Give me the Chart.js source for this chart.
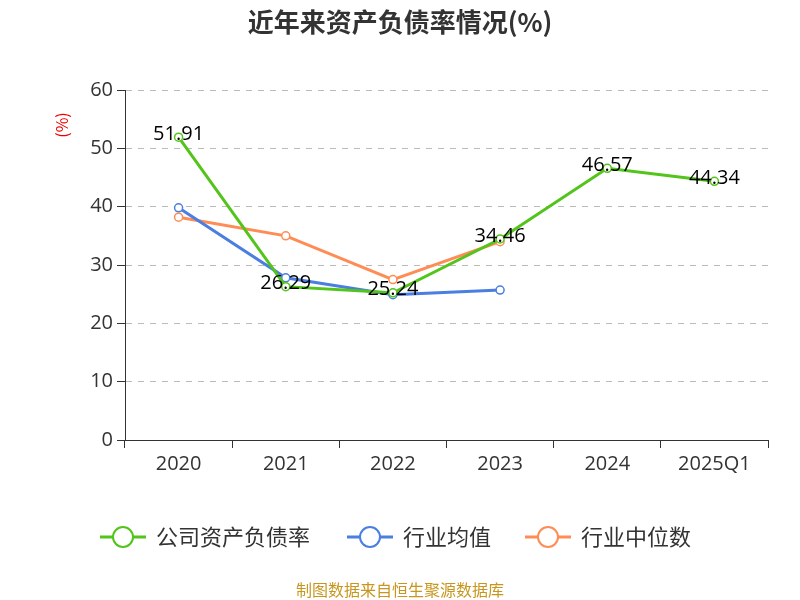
<!DOCTYPE html>
<html><head><meta charset="utf-8">
<script src="https://cdn.jsdelivr.net/npm/chart.js"></script>
<style>body{margin:0;background:#fff}#w{width:800px;height:600px}</style>
</head><body><div id="w"><canvas id="c" width="800" height="600"></canvas></div>
<script>
const categories=['2020','2021','2022','2023','2024','2025Q1'];
const company=[51.91,26.29,25.24,34.46,46.57,44.34];
const industryAvg=[39.8,27.8,24.9,25.7,null,null];
const industryMedian=[38.2,35.0,27.5,34.0,null,null];
const yTicks=[0,10,20,30,40,50,60];
const names=['公司资产负债率','行业均值','行业中位数'];
const colors=['#52c41a','#4a7ee0','#ff8c55'];
const F='"Noto Sans CJK SC","Noto Sans",sans-serif';
const L='"Open Sans","Noto Sans CJK SC",sans-serif';
const deco={id:'deco',afterDraw(ch){
 const c=ch.ctx;c.save();
 c.fillStyle='#333';c.font='bold 26px '+F;c.textAlign='center';c.textBaseline='middle';
 c.fillText('近年来资产负债率情况(%)',400,22);
 c.save();c.translate(62,125);c.rotate(-Math.PI/2);c.fillStyle='#e00';c.font='16px '+F;c.fillText('(%)',0,0);c.restore();
 const m=ch.getDatasetMeta(0);c.fillStyle='#000';c.font='20px '+L;
 m.data.forEach((p,i)=>c.fillText(company[i].toFixed(2),p.x,p.y-3));
 const items=[[100,names[0]],[347,names[1]],[525,names[2]]];
 c.font='22px '+F;c.textAlign='left';
 items.forEach(([x,t],i)=>{c.strokeStyle=colors[i];c.lineWidth=3;c.beginPath();c.moveTo(x,537);c.lineTo(x+46,537);c.stroke();
  c.beginPath();c.arc(x+23,537,10,0,Math.PI*2);c.fillStyle='#fff';c.fill();c.lineWidth=2;c.stroke();
  c.fillStyle='#333';c.fillText(t,x+56,537);});
 c.fillStyle='#c8961e';c.font='16px '+F;c.textAlign='center';c.fillText('制图数据来自恒生聚源数据库',400,590);
 c.restore();}};
const ds=(d,i)=>({data:d,borderColor:colors[i],backgroundColor:'#fff',borderWidth:3,pointRadius:4,pointBorderWidth:1.5,pointBackgroundColor:'#fff',tension:0,spanGaps:false});
new Chart(document.getElementById('c'),{type:'line',
 data:{labels:categories,datasets:[ds(company,0),ds(industryAvg,1),ds(industryMedian,2)]},
 options:{responsive:false,animation:false,layout:{padding:{top:90,bottom:110,left:0,right:32}},
 plugins:{legend:{display:false},tooltip:{enabled:false}},
 scales:{
  x:{offset:true,afterFit(s){s.height=50},grid:{offset:true,drawOnChartArea:false,color:'#333',tickLength:8},border:{color:'#333'},ticks:{color:'#333',font:{size:20,family:L},padding:4}},
  y:{min:0,max:60,afterFit(s){s.width=125},afterBuildTicks(s){s.ticks=yTicks.map(v=>({value:v}))},
   grid:{color:'#bbb',tickLength:8,tickColor:'#333',drawTicks:true},border:{color:'#333',dash:[6,6]},
   ticks:{color:'#333',font:{size:20,family:L},padding:4}}}},
 plugins:[deco]});
</script></body></html>
